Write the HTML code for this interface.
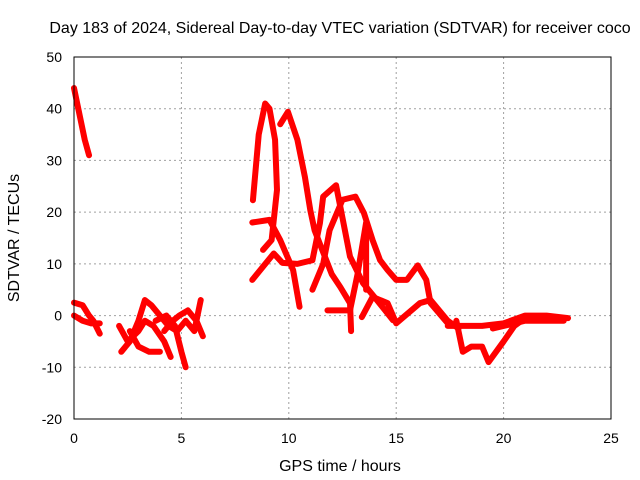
<!DOCTYPE html>
<html><head><meta charset="utf-8"><style>
body{margin:0;background:#fff}
svg{display:block;font-family:"Liberation Sans",sans-serif}
</style></head><body>
<svg id="chart" width="640" height="480">
<text x="340" y="33" text-anchor="middle" font-size="16">Day 183 of 2024, Sidereal Day-to-day VTEC variation (SDTVAR) for receiver coco</text>
<g id="grid"></g>
<g id="ticks"></g>
<g id="series"></g>
<rect x="74" y="57" width="537" height="362" fill="none" stroke="#000"/>
<text x="340" y="471" text-anchor="middle" font-size="16">GPS time / hours</text>
<text transform="translate(19,238) rotate(-90)" text-anchor="middle" font-size="16">SDTVAR / TECUs</text>
</svg>
<script>
const xTicks=[0,5,10,15,20,25];
const yTicks=[-20,-10,0,10,20,30,40,50];
const trackHours=[
[0,0.3,0.5,0.7],
[0,0.4,0.7,0.9,1.2],
[0,0.4,0.8,1.2],
[2.1,2.5,3,3.3,3.7,4.2,4.5],
[2.2,2.6,3,3.3,3.6,4,4.4,4.8,5.2,5.6,5.9],
[2.6,3,3.5,4],
[3.8,4.3,4.7,5,5.2],
[4.2,4.6,4.9,5.3,5.7,6],
[8.33,8.6,8.9,9.1,9.36,9.45,9.2,8.8],
[9.6,9.96,10.4,10.75,11,11.2,11.5,12,12.4,12.85,12.9],
[8.3,9.1,9.6,10.2,10.5],
[8.3,9.3,9.7,10.4,11.1,11.45,11.6,12.2,12.4,12.85,13.45,14.1,14.85],
[11.1,11.6,11.9,12.5,13.1,13.5,13.9,14.25,14.6,15,15.5,16,16.4,16.6,17.4],
[11.8,12.85,13.2,13.6,13.6],
[13.4,13.9,14.6,15,16.1,16.6,17.4,17.9],
[17.4,19,20,21,22,23],
[17.8,18.1,18.5,19,19.3,20,20.5,21],
[19.5,21,22.8]
];
const trackValues=[
[44,38,34,31],
[2.5,2,0,-1,-3.5],
[0,-1,-1.5,-1.5],
[-2,-5,-3,-1,-2,-5,-8],
[-7,-5,-1,3,2,0,-2,-3,-1,-3,3],
[-3,-6,-7,-7],
[-1,0,-2,-7,-10],
[-3,-1,0,1,-1,-4],
[22.3,35,41,40,34,24.3,14.6,12.7],
[37,39.4,34,26.8,20.4,16.5,13.3,8,5.5,2.4,-3],
[18,18.5,14.6,8.8,1.7],
[6.9,12,10.2,10,10.7,17.9,23,25.2,21,11.4,6.3,3,-0.9],
[5,10,16.5,22.4,23,19.8,14.6,10.7,8.8,6.9,6.9,9.7,6.9,2.4,-1.5],
[1,1,8,18,5],
[-0.3,3.6,2.4,-1.5,2.4,3,-1,-2.5],
[-2,-2,-1.5,0,0,-0.5],
[-1,-7,-6,-6,-9,-5,-2,-0.5],
[-2.5,-1,-1]
];
const NS="http://www.w3.org/2000/svg";
const X=h=>74+h*537/25;
const Y=v=>57+(50-v)*362/70;
const grid=document.getElementById('grid'),ticks=document.getElementById('ticks'),series=document.getElementById('series');
xTicks.forEach(t=>{
  if(t>0&&t<25){const l=document.createElementNS(NS,'line');
  l.setAttribute('x1',X(t));l.setAttribute('x2',X(t));l.setAttribute('y1',57);l.setAttribute('y2',419);
  l.setAttribute('stroke','#a0a0a0');l.setAttribute('stroke-dasharray','2,3');
  
  
  grid.appendChild(l);}
  const tx=document.createElementNS(NS,'text');
  tx.setAttribute('x',X(t));tx.setAttribute('y',443);tx.setAttribute('text-anchor','middle');tx.setAttribute('font-size','14');
  tx.textContent=t;
  
  
  ticks.appendChild(tx);
});
yTicks.forEach(t=>{
  if(t>-20&&t<50){const l=document.createElementNS(NS,'line');
  l.setAttribute('x1',74);l.setAttribute('x2',611);l.setAttribute('y1',Y(t));l.setAttribute('y2',Y(t));
  l.setAttribute('stroke','#a0a0a0');l.setAttribute('stroke-dasharray','2,3');
  
  
  grid.appendChild(l);}
  const tx=document.createElementNS(NS,'text');
  tx.setAttribute('x',62);tx.setAttribute('y',Y(t)+5);tx.setAttribute('text-anchor','end');tx.setAttribute('font-size','14');
  tx.textContent=t;
  
  
  ticks.appendChild(tx);
});
trackHours.forEach((hs,i)=>{
  const vs=trackValues[i];
  const p=document.createElementNS(NS,'polyline');
  p.setAttribute('points',hs.map((h,j)=>X(h)+','+Y(vs[j])).join(' '));
  p.setAttribute('fill','none');p.setAttribute('stroke','#ff0000');p.setAttribute('stroke-width','6');
  p.setAttribute('stroke-linejoin','round');p.setAttribute('stroke-linecap','round');
  
  
  series.appendChild(p);
});
</script>
</body></html>
